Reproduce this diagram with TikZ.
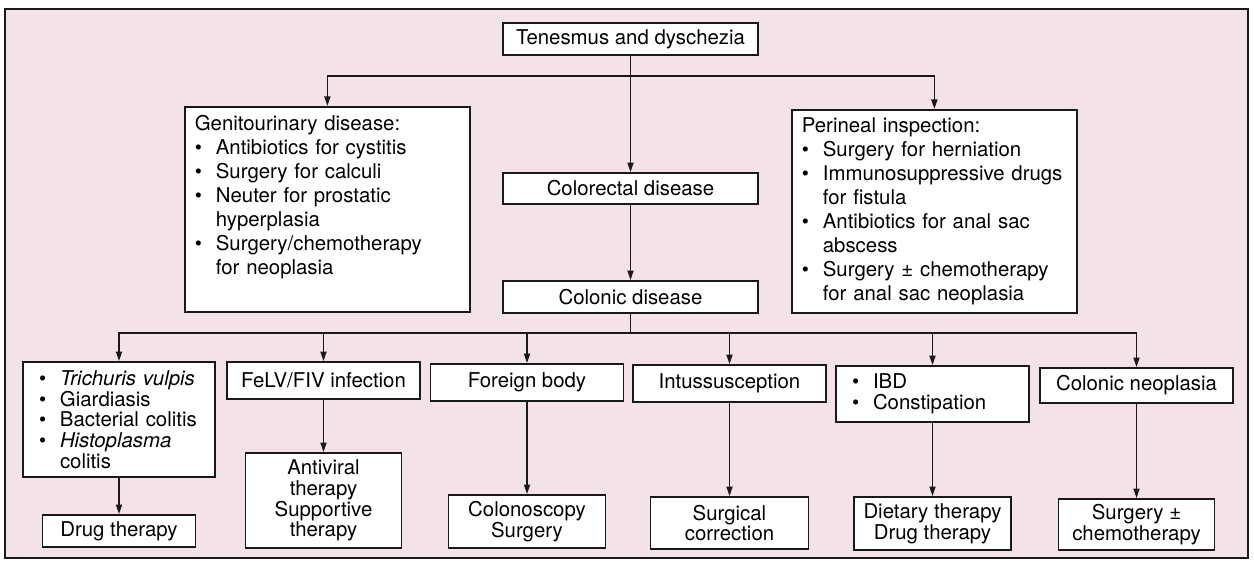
\documentclass[tikz,border=0pt]{standalone}
\usepackage{fontspec}
\setmainfont{TeX Gyre Heros}
\usepackage{tikz}
\usetikzlibrary{arrows.meta, positioning, calc}
\definecolor{pagepink}{RGB}{243,226,232}
\definecolor{inkblack}{RGB}{25,25,25}
\newcommand{\bul}{\makebox[0.42cm][l]{\textbullet}}
\newcommand{\cont}{\hspace*{0.42cm}}
\tikzset{
  stagebox/.style={draw=inkblack, line width=1pt, fill=white, inner sep=0pt,
    align=center, font=\fontsize{11.6}{13.6}\selectfont},
  lowbox/.style={stagebox, font=\fontsize{11.6}{11.8}\selectfont},
  notebox/.style={stagebox, anchor=north west, align=left, inner xsep=0.2cm,
    inner ysep=0.1cm, text width=5.3cm},
  flowline/.style={draw=inkblack, line width=0.9pt},
  flowarrow/.style={flowline, -{Triangle[length=1.9mm,width=1.2mm]}},
}

\begin{document}
\begin{tikzpicture}
  % page and frame
  \path[use as bounding box, fill=white] (0,0) rectangle (25.08,-11.24);
  \draw[draw=inkblack, fill=pagepink, line width=1.5pt] (0.10,-0.18) rectangle (24.96,-11.16);

  % main column
  \node[stagebox, minimum width=5.1cm, minimum height=0.64cm] (tenesmus) at (12.61,-0.78)
    {Tenesmus and dyschezia};
  \node[stagebox, minimum width=5.1cm, minimum height=0.62cm] (colorectal) at (12.61,-3.77)
    {Colorectal disease};
  \node[stagebox, minimum width=5.1cm, minimum height=0.64cm] (colonic) at (12.61,-5.94)
    {Colonic disease};

  % side boxes
  \node[notebox, text height=0.38cm, text depth=3.52cm] (genito) at (3.68,-2.12)
    {Genitourinary disease:\\
     \bul Antibiotics for cystitis\\
     \bul Surgery for calculi\\
     \bul Neuter for prostatic\\
     \cont hyperplasia\\
     \bul Surgery/chemotherapy\\
     \cont for neoplasia};
  \node[notebox, text height=0.36cm, text depth=3.50cm] (perineal) at (15.82,-2.18)
    {Perineal inspection:\\
     \bul Surgery for herniation\\
     \bul Immunosuppressive drugs\\
     \cont for fistula\\
     \bul Antibiotics for anal sac\\
     \cont abscess\\
     \bul Surgery ± chemotherapy\\
     \cont for anal sac neoplasia};

  % causes
  \node[lowbox, align=left, inner xsep=0.32cm, text width=3.2cm, minimum height=2.3cm]
    (trich) at (2.38,-8.39)
    {\bul\textit{Trichuris vulpis}\\
     \bul Giardiasis\\
     \bul Bacterial colitis\\
     \bul\textit{Histoplasma}\\
     \cont colitis};
  \node[stagebox, minimum width=3.86cm, minimum height=0.74cm] (felv) at (6.47,-7.61)
    {FeLV/FIV infection};
  \node[stagebox, minimum width=3.86cm, minimum height=0.74cm] (foreign) at (10.54,-7.65)
    {Foreign body};
  \node[stagebox, minimum width=3.86cm, minimum height=0.74cm] (intus) at (14.59,-7.67)
    {Intussusception};
  \node[lowbox, align=left, inner xsep=0.32cm, text width=3.22cm, minimum height=1.12cm]
    (ibd) at (18.65,-7.88)
    {\bul IBD\\
     \bul Constipation};
  \node[stagebox, minimum width=3.86cm, minimum height=0.70cm] (neo) at (22.73,-7.71)
    {Colonic neoplasia};

  % treatments
  \node[lowbox, minimum width=3.06cm, minimum height=0.64cm] (drug) at (2.38,-10.62)
    {Drug therapy};
  \node[lowbox, minimum width=3.12cm, minimum height=1.9cm] (antiviral) at (6.47,-10.01)
    {Antiviral\\therapy\\Supportive\\therapy};
  \node[lowbox, minimum width=3.14cm, minimum height=1.06cm] (colonoscopy) at (10.54,-10.43)
    {Colonoscopy\\Surgery};
  \node[lowbox, minimum width=3.16cm, minimum height=1.04cm] (surgical) at (14.59,-10.46)
    {Surgical\\correction};
  \node[lowbox, minimum width=3.14cm, minimum height=1.06cm] (dietary) at (18.65,-10.47)
    {Dietary therapy\\Drug therapy};
  \node[lowbox, minimum width=3.12cm, minimum height=1.02cm] (surgchemo) at (22.73,-10.49)
    {Surgery ±\\chemotherapy};

  % connectors
  \coordinate (topsplit) at (12.61,-1.52);
  \coordinate (lowsplit) at (12.61,-6.66);
  \draw[flowarrow] (tenesmus) -- (colorectal);
  \draw[flowarrow] (topsplit) -| (genito);
  \draw[flowarrow] (topsplit) -| (perineal);
  \draw[flowarrow] (colorectal) -- (colonic);
  \draw[flowline] (colonic) -- (lowsplit);
  \foreach \n in {trich, felv, foreign, intus, ibd, neo}
    \draw[flowarrow] (lowsplit) -| (\n);
  \foreach \a/\b in {trich/drug, felv/antiviral, foreign/colonoscopy,
                     intus/surgical, ibd/dietary, neo/surgchemo}
    \draw[flowarrow] (\a) -- (\b);
\end{tikzpicture}
\end{document}
